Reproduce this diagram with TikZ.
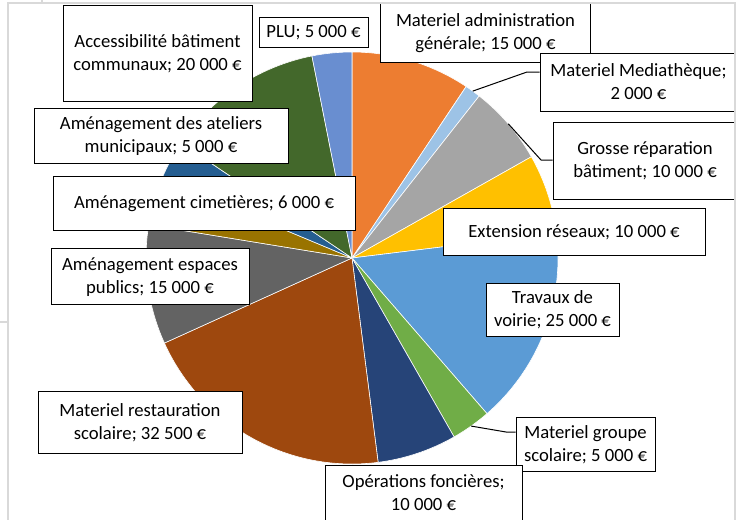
\documentclass[tikz,border=0pt]{standalone}
\usepackage{fontspec}
\setmainfont{Carlito}
\usetikzlibrary{calc}
\definecolor{cAdm}{HTML}{ED7D31}
\definecolor{cMed}{HTML}{9DC3E6}
\definecolor{cGro}{HTML}{A5A5A5}
\definecolor{cExt}{HTML}{FFC000}
\definecolor{cVoi}{HTML}{5B9BD5}
\definecolor{cGrp}{HTML}{70AD47}
\definecolor{cOpe}{HTML}{264478}
\definecolor{cRes}{HTML}{9E480E}
\definecolor{cEsp}{HTML}{636363}
\definecolor{cCim}{HTML}{997300}
\definecolor{cAte}{HTML}{255E91}
\definecolor{cAcc}{HTML}{43682B}
\definecolor{cPlu}{HTML}{698ED0}
\definecolor{frameGray}{HTML}{D9D9D9}
\newcommand\lbltop{\rule{0pt}{16.7pt}}
\newcommand\lblbot{\rule[-5pt]{0pt}{5pt}}
\begin{document}
\begin{tikzpicture}[x=1pt,y=-1pt,
  lbl/.style={draw=black, line width=0.9pt, fill=white, align=center, inner sep=0pt,
    font=\fontsize{18.67}{22.8}\selectfont},
  leader/.style={draw=black, line width=1pt},
  slice/.style={draw=white, line width=0.6pt, line join=round},
  framestyle/.style={draw=frameGray, line width=1.5pt}]
\useasboundingbox (0,0) rectangle (741,519);
\coordinate (c) at (352,258);
\foreach \a/\b/\col in {0/15/cAdm, 15/17/cMed, 17/27/cGro, 27/37/cExt, 37/62/cVoi,
  62/67/cGrp, 67/77/cOpe, 77/109.5/cRes, 109.5/124.5/cEsp, 124.5/130.5/cCim,
  130.5/135.5/cAte, 135.5/155.5/cAcc, 155.5/160.5/cPlu} {
  \pgfmathsetmacro\sa{90-\a/160.5*360}
  \pgfmathsetmacro\sb{90-\b/160.5*360}
  \filldraw[slice, fill=\col] (c) -- ++(\sa:206pt) arc[start angle=\sa, end angle=\sb, radius=206pt] -- cycle;
}
\coordinate (lm) at ($(c)+({90-16/160.5*360}:206pt)$);
\coordinate (lg) at ($(c)+({90-22/160.5*360}:206pt)$);
\coordinate (lp) at ($(c)+({90-64.5/160.5*360}:206pt)$);
\coordinate (bm) at (527,72);
\coordinate (bg) at (541,160);
\coordinate (bp) at (506,432);

\begin{scope}
\clip (8,3) rectangle (735,519);
\node[lbl, minimum width=189pt, minimum height=96pt] (acc) at (157.5,53) {\lbltop Accessibilité bâtiment\\communaux; 20 000 €\lblbot};
\node[lbl, minimum width=109pt, minimum height=30pt] (plu) at (313.5,32) {\lbltop PLU; 5 000 €\lblbot};
\node[lbl, draw=none, minimum width=209pt, minimum height=59pt] (adm) at (485.5,32.5) {\lbltop Materiel administration\\générale; 15 000 €\lblbot};
\draw[line width=0.9pt] ([yshift=20pt]adm.north west) -- (adm.south west) -- (adm.south east) -- ([yshift=20pt]adm.north east);
\node[lbl, minimum width=197pt, minimum height=58pt] (med) at (638.5,82) {\lbltop Materiel Mediathèque;\\2 000 €\lblbot};
\node[lbl, minimum width=184pt, minimum height=77pt] (gro) at (645,160.5) {\lbltop Grosse réparation\\bâtiment; 10 000 €\lblbot};
\node[lbl, minimum width=262pt, minimum height=47pt] (ext) at (574,231.5) {\lbltop Extension réseaux; 10 000 €\lblbot};
\node[lbl, minimum width=133pt, minimum height=53pt] (voi) at (552.5,309.5) {\lbltop Travaux de\\voirie; 25 000 €\lblbot};
\node[lbl, minimum width=139pt, minimum height=54pt] (grp) at (585.5,444) {\lbltop Materiel groupe\\scolaire; 5 000 €\lblbot};
\node[lbl, minimum width=197pt, minimum height=57pt] (ope) at (423.5,493.5) {\lbltop Opérations foncières;\\10 000 €\lblbot};
\node[lbl, minimum width=204pt, minimum height=62pt] (res) at (140,422) {\lbltop Materiel restauration\\scolaire; 32 500 €\lblbot};
\node[lbl, minimum width=198pt, minimum height=56pt] (esp) at (150,276) {\lbltop Aménagement espaces\\publics; 15 000 €\lblbot};
\node[lbl, minimum width=302pt, minimum height=54pt] (cim) at (204,203) {\lbltop Aménagement cimetières; 6 000 €\lblbot};
\node[lbl, minimum width=254pt, minimum height=55pt] (ate) at (161,135.5) {\lbltop Aménagement des ateliers\\municipaux; 5 000 €\lblbot};
\end{scope}
\draw[leader] (lm) -- (bm) -- (bm -| med.west);
\draw[leader] (lg) -- (bg) -- (bg -| gro.west);
\draw[leader] (lp) -- (bp) -- (bp -| grp.west);

\draw[framestyle] (8,3) rectangle (735,530);
\draw[framestyle, line width=1.2pt] (42,0) -- (42,3);
\draw[framestyle, line width=1.2pt] (0,322) -- (8,322);
\end{tikzpicture}
\end{document}
